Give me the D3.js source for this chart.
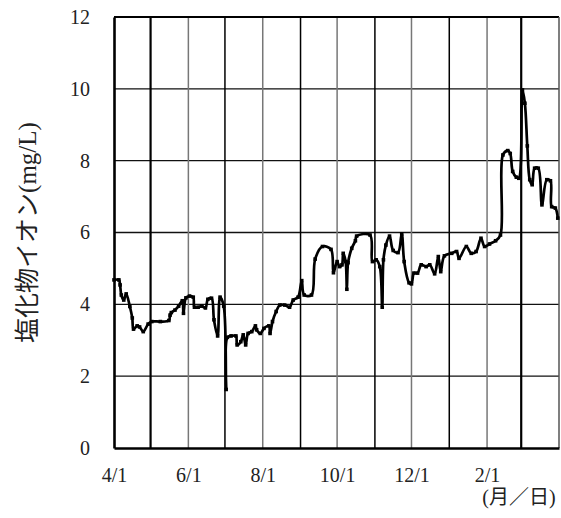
<!DOCTYPE html>
<html><head><meta charset="utf-8">
<script src="https://cdn.jsdelivr.net/npm/d3@7"></script>
<style>body{margin:0;background:#fff}svg{display:block}</style>
</head><body>
<svg id="c" width="561" height="518"></svg>
<script>
const dates = ["4/1","4/5","4/6","4/7","4/9","4/11","4/14","4/16","4/17","4/20","4/22","4/25","4/29",
"5/2","5/9","5/16","5/17","5/18","5/21","5/24","5/27","5/28","5/30",
"6/2","6/5","6/6","6/9","6/12","6/15","6/17","6/20","6/22","6/25","6/27","6/30",
"7/2","7/3","7/6","7/10","7/11","7/14","7/16","7/18","7/20","7/23","7/26","7/27","7/30",
"8/2","8/6","8/7","8/9","8/12","8/15","8/19","8/23","8/26","8/30",
"9/2","9/4","9/10","9/13","9/19","9/26","9/28",
"10/1","10/3","10/5","10/6","10/8","10/9","10/10","10/13","10/16","10/17","10/28","10/30",
"11/2","11/5","11/7","11/8","11/10","11/13","11/16","11/20","11/23","11/25","11/29",
"12/1","12/3","12/6","12/9","12/13","12/16","12/20","12/23","12/25","12/28",
"1/3","1/7","1/9","1/15","1/19","1/23","1/27","1/30",
"2/3","2/8","2/12","2/14","2/18","2/20","2/22","2/25","2/27",
"3/2","3/4","3/6","3/8","3/10","3/12","3/15","3/18","3/22","3/25","3/26","3/29","3/31"];
const chloride = [4.68,4.68,4.54,4.26,4.12,4.29,3.94,3.62,3.31,3.40,3.37,3.24,3.45,
3.52,3.52,3.55,3.70,3.77,3.84,3.95,4.10,3.75,4.18,
4.23,4.20,3.92,3.92,3.95,3.90,4.14,4.17,3.57,3.12,4.20,3.95,
1.63,3.08,3.12,3.12,2.87,2.96,3.15,2.87,3.19,3.24,3.40,3.29,3.19,
3.33,3.40,3.19,3.52,3.80,3.98,3.98,3.92,4.12,4.20,
4.66,4.26,4.26,5.26,5.61,5.53,4.88,
5.19,5.05,5.10,5.42,5.19,4.42,5.16,5.56,5.77,5.90,5.93,5.19,
5.24,5.05,3.92,5.24,5.65,5.90,5.50,5.44,5.96,5.19,4.60,
4.57,4.87,4.87,5.10,5.05,5.10,4.85,5.33,4.91,5.35,
5.42,5.47,5.28,5.61,5.42,5.47,5.84,5.61,
5.68,5.77,5.93,8.16,8.28,8.20,7.70,7.54,7.51,
9.97,9.60,8.41,7.47,7.33,7.79,7.79,6.77,7.47,7.44,6.72,6.68,6.40];
const xTickLabels = ["4/1","6/1","8/1","10/1","12/1","2/1"];
const yTicks = [0,2,4,6,8,10,12];
const yTitle = "塩化物イオン(mg/L)";
const xTitle = "(月／日)";

function parseMD(s){ const [m,d]=s.split("/").map(Number); return new Date(m>=4?2022:2023, m-1, d); }
const data = dates.map((d,i)=>({date:parseMD(d), v:chloride[i]}));

const L=114, R=559, T=17, B=448;
const x = d3.scaleTime().domain([new Date(2022,3,1), new Date(2023,3,1)]).range([L,R]);
const y = d3.scaleLinear().domain([0,12]).range([B,T]);
const svg = d3.select("#c");
const serif = "'Liberation Serif','Noto Sans CJK JP',serif";

// horizontal grid
svg.append("g").selectAll("line").data(yTicks.filter(t=>t>0&&t<12)).join("line")
  .attr("x1",L).attr("x2",R).attr("y1",d=>y(d)).attr("y2",d=>y(d))
  .attr("stroke","#111").attr("stroke-width",1.3);
// vertical month grid
const months = d3.timeMonth.range(new Date(2022,4,1), new Date(2023,3,1));
svg.append("g").selectAll("line").data(months).join("line")
  .attr("x1",d=>x(d)).attr("x2",d=>x(d)).attr("y1",T).attr("y2",B)
  .attr("stroke",(d,i)=> i%2===0 ? "#000" : "#777")
  .attr("stroke-width",(d,i)=> (i===0||i===10) ? 2.2 : 1.5);
// frame
svg.append("line").attr("x1",L).attr("x2",R).attr("y1",T).attr("y2",T).attr("stroke","#000").attr("stroke-width",2);
svg.append("line").attr("x1",R).attr("x2",R).attr("y1",T).attr("y2",B).attr("stroke","#555").attr("stroke-width",1.5);

// axes
const yAxis = d3.axisLeft(y).tickValues(yTicks).tickSize(0).tickPadding(24);
const gy = svg.append("g").attr("transform",`translate(${L},0)`).call(yAxis);
gy.select(".domain").attr("stroke","#000").attr("stroke-width",2.6);
gy.selectAll("text").attr("font-family",serif).attr("font-size",20).attr("fill","#222");

const xAxis = d3.axisBottom(x).tickValues(xTickLabels.map(parseMD)).tickSize(0).tickPadding(20)
  .tickFormat((d,i)=>xTickLabels[i]);
const gx = svg.append("g").attr("transform",`translate(0,${B})`).call(xAxis);
gx.select(".domain").attr("stroke","#000").attr("stroke-width",2.4);
gx.selectAll("text").attr("font-family",serif).attr("font-size",20).attr("fill","#222");

// line (smoothed, clipped to plot)
svg.append("clipPath").attr("id","clip").append("rect").attr("x",L).attr("y",T).attr("width",R-L+2).attr("height",B-T);
const line = d3.line().x(d=>x(d.date)).y(d=>y(d.v)).curve(d3.curveCatmullRom.alpha(0.5));
svg.append("path").datum(data).attr("d",line).attr("fill","none").attr("clip-path","url(#clip)")
  .attr("stroke","#000").attr("stroke-width",2.7).attr("stroke-linejoin","round");
svg.append("g").selectAll("rect").data(data).join("rect")
  .attr("x",d=>x(d.date)-1.8).attr("y",d=>y(d.v)-1.8).attr("width",3.6).attr("height",3.6).attr("fill","#000");

// titles
svg.append("text").attr("transform",`translate(36,${(T+B)/2}) rotate(-90)`)
  .attr("text-anchor","middle").attr("font-family",serif).attr("font-size",25).attr("fill","#222").text(yTitle);
svg.append("text").attr("x",519).attr("y",504).attr("text-anchor","middle")
  .attr("font-family",serif).attr("font-size",20).attr("fill","#222").text(xTitle);
</script>
</body></html>
